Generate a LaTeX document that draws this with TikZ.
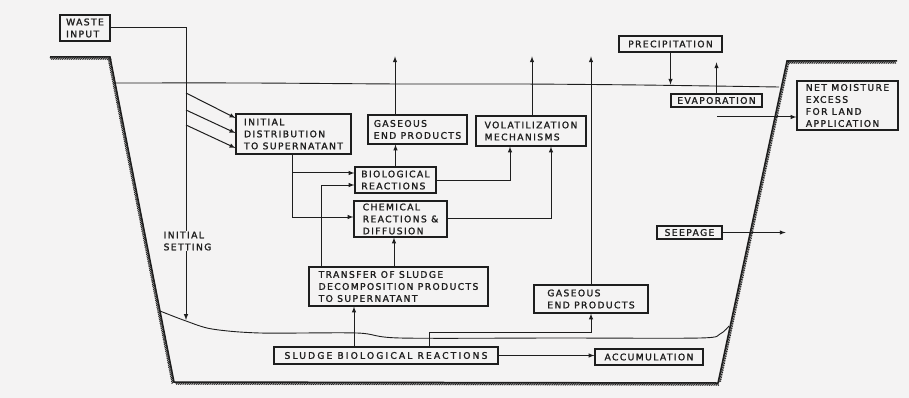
\documentclass[tikz,border=0pt]{standalone}
\usepackage{fontspec}
\usepackage{tikz}
\usetikzlibrary{arrows,calc,positioning,decorations.pathreplacing}
\newfontfamily\lagoonfont[LetterSpace=15,FakeBold=1.6]{DejaVu Sans}
\definecolor{paper}{RGB}{244,243,243}
\definecolor{ink}{RGB}{30,30,30}

\begin{document}
\begin{tikzpicture}[x=1pt,y=-1pt,>=latex,
    box/.style={draw=ink,line width=1.2pt,fill=paper,inner sep=1pt,align=left,text=ink,
      font=\lagoonfont\fontsize{9.2}{12}\selectfont},
    flow/.style={draw=ink,line width=1pt,->},
    bank/.style={draw=ink,line width=1.5pt},
    hatch/.style={draw=ink,line width=0.8pt,decorate,
      decoration={border,segment length=1.8pt,amplitude=3.2pt,angle=-55}},
    surf/.style={draw=ink,line width=0.9pt}
    ]
    \fill[paper] (0,0) rectangle (909,398);
    \useasboundingbox (0,0) rectangle (909,398);

    \coordinate (b1) at (50,57);
    \coordinate (b2) at (110,57);
    \coordinate (b3) at (174,382);
    \coordinate (b4) at (718,383);
    \coordinate (b5) at (787,61);
    \coordinate (b6) at (897,61);
    \draw[bank] (b1) -- (b2) -- (b3) -- (b4) -- (b5) -- (b6);
    \draw[hatch] (b1) -- (b2) -- (b3) -- (b4) -- (b5) -- (b6);

    \draw[surf] plot[smooth] coordinates {(115,83) (250,83) (400,84) (520,84) (640,85) (779,87)};
    \draw[surf] plot[smooth] coordinates {(160,311) (186,321) (212,329) (260,333) (357,333)
      (400,338) (560,338) (700,338) (720,334) (729,326)};

    \node[box,minimum width=50pt,minimum height=26pt] (waste) at (85,28) {WASTE\\INPUT};
    \node[box,minimum width=115pt,minimum height=40pt] (initdist) at (293.5,134) {INITIAL\\DISTRIBUTION\\TO SUPERNATANT};
    \node[box,minimum width=99pt,minimum height=29pt] (gasup) at (417.5,129.5) {GASEOUS\\END PRODUCTS};
    \node[box,minimum width=110pt,minimum height=30pt] (volat) at (531,131) {VOLATILIZATION\\MECHANISMS};
    \node[box,minimum width=81pt,minimum height=26pt] (bioreact) at (395.5,180) {BIOLOGICAL\\REACTIONS};
    \node[box,minimum width=93pt,minimum height=36pt] (chemreact) at (400.5,219) {CHEMICAL\\REACTIONS \&\\DIFFUSION};
    \node[box,minimum width=179pt,minimum height=39pt] (transfer) at (398.5,286.5) {TRANSFER OF SLUDGE\\DECOMPOSITION PRODUCTS\\TO SUPERNATANT};
    \node[box,minimum width=224pt,minimum height=17pt] (sludge) at (386,355.5) {\addfontfeatures{LetterSpace=23}SLUDGE BIOLOGICAL REACTIONS};
    \node[box,minimum width=108pt,minimum height=16pt] (accum) at (649,357) {ACCUMULATION};
    \node[box,minimum width=114pt,minimum height=28pt] (gaslow) at (591,299) {GASEOUS\\END PRODUCTS};
    \node[box,minimum width=103pt,minimum height=16pt] (precip) at (670.5,44) {PRECIPITATION};
    \node[box,minimum width=91pt,minimum height=13pt] (evap) at (716.5,100.5) {EVAPORATION};
    \node[box,minimum width=101pt,minimum height=49pt] (netmoist) at (847.5,105.5) {NET MOISTURE\\EXCESS\\FOR LAND\\APPLICATION};
    \node[box,minimum width=65pt,minimum height=13pt] (seepage) at (689.5,232.5) {SEEPAGE};

    \coordinate (settle) at (186,320);
    \draw[flow] (waste.east) -| (settle);
    \node[box,draw=none] (setlbl) at (187.5,241) {INITIAL\\SETTING};

    \coordinate (s1) at (186,93);
    \coordinate (s2) at (186,110);
    \coordinate (s3) at (186,125);
    \draw[flow] (s1) -- ([yshift=16pt]initdist.west);
    \draw[flow] (s2) -- ([yshift=1pt]initdist.west);
    \draw[flow] (s3) -- ([yshift=-14pt]initdist.west);

    \coordinate (j1) at (292,173);
    \draw[flow] ([xshift=-1.5pt]initdist.south) |- ([yshift=2pt]chemreact.west);
    \draw[flow] (j1) -- (j1 -| bioreact.west);
    \draw[flow] ([xshift=13pt]transfer.north west) |- ([yshift=-5pt]bioreact.west);
    \draw[flow] (bioreact.north) -- (bioreact.north |- gasup.south);
    \draw[flow] (bioreact.east) -| ([xshift=-21pt]volat.south);
    \draw[flow] ([yshift=1pt]chemreact.east) -| ([xshift=20pt]volat.south);

    \coordinate (t1) at ([xshift=-4.5pt]transfer.north);
    \draw[flow] (t1) -- (t1 |- chemreact.south);
    \coordinate (t2) at ([xshift=-32pt]sludge.north);
    \draw[flow] (t2) -- (t2 |- transfer.south);
    \coordinate (t3) at ([xshift=43pt]sludge.north);
    \draw[flow] (t3) -- ++(0,-14) -| (gaslow.south);
    \draw[flow] (sludge.east) -- (sludge.east -| accum.west);

    \draw[flow] ([xshift=-22.5pt]gasup.north) -- ++(0,-58);
    \draw[flow] ([xshift=1pt]volat.north) -- ++(0,-59);
    \draw[flow] (gaslow.north) -- ++(0,-228);
    \draw[flow] (precip.south) -- ++(0,32);
    \draw[flow] (evap.north) -- ++(0,-31);
    \coordinate (nm0) at (717,117);
    \draw[flow] (nm0) -- (nm0 -| netmoist.west);
    \draw[flow] (seepage.east) -- ++(63,0);
\end{tikzpicture}
\end{document}
